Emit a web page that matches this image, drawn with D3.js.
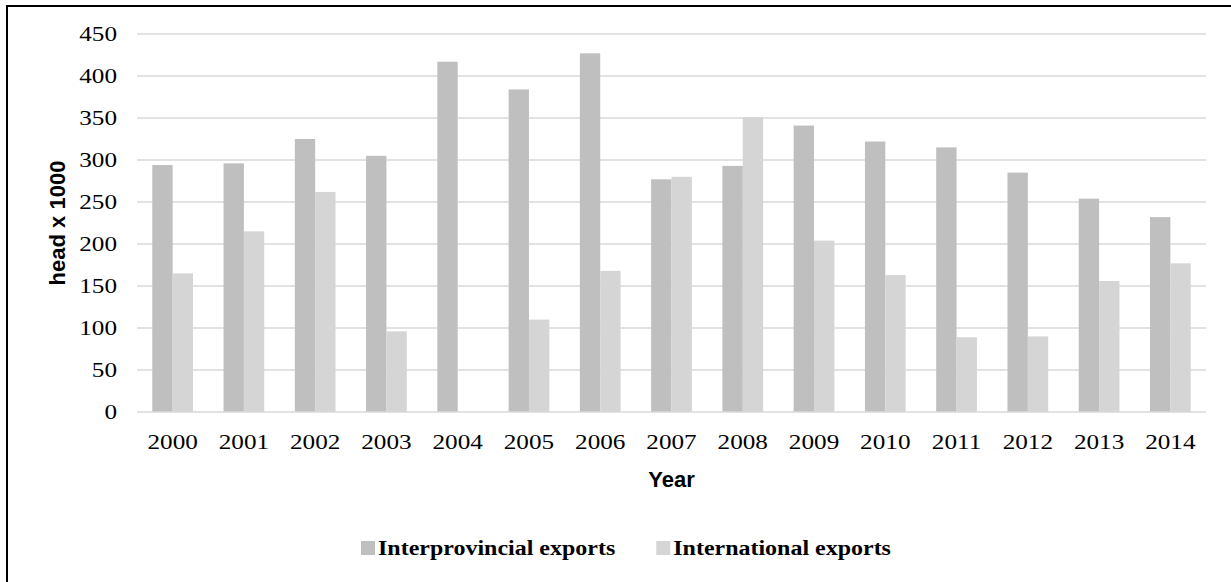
<!DOCTYPE html>
<html>
<head>
<meta charset="utf-8">
<script src="https://cdn.jsdelivr.net/npm/d3@7"></script>
<style>
  html, body { margin: 0; padding: 0; background: #fff; }
  svg { display: block; }
</style>
</head>
<body>
<svg id="chart" width="1231" height="582"></svg>
<script>
// Cattle exports, thousands of head per year
const years = ["2000","2001","2002","2003","2004","2005","2006","2007","2008","2009","2010","2011","2012","2013","2014"];
const interprovincial = [294, 296, 325, 305, 417, 384, 427, 277, 293, 341, 322, 315, 285, 254, 232];
const international   = [165, 215, 262, 96, 0, 110, 168, 280, 351, 204, 163, 89, 90, 156, 177];
const seriesNames = ["Interprovincial exports", "International exports"];
const seriesColors = ["#bfbfbf", "#d5d5d5"];
const yTicks = [0, 50, 100, 150, 200, 250, 300, 350, 400, 450];

const svg = d3.select("#chart");
const W = 1231, H = 582;
const plot = { left: 137, right: 1206, top: 34, bottom: 412 };

// frame (left and top edges)
svg.append("line").attr("x1", 7).attr("x2", 7).attr("y1", 5).attr("y2", H)
  .attr("stroke", "#000").attr("stroke-width", 2);
svg.append("line").attr("x1", 6).attr("x2", W).attr("y1", 6).attr("y2", 6)
  .attr("stroke", "#000").attr("stroke-width", 2);

const x = d3.scaleBand().domain(years).range([plot.left, plot.right]).paddingInner(0).paddingOuter(0);
const y = d3.scaleLinear().domain([0, 450]).range([plot.bottom, plot.top]);

// bars occupy 2/(2+1.5) of each band (gap width 150%)
const groupW = x.bandwidth() * 2 / 3.5;
const x1 = d3.scaleBand().domain([0, 1]).range([0, groupW]);

// gridlines
svg.append("g").selectAll("line").data(yTicks.filter(d => d > 0)).join("line")
  .attr("x1", plot.left).attr("x2", plot.right)
  .attr("y1", d => y(d)).attr("y2", d => y(d))
  .attr("stroke", "#d9d9d9").attr("stroke-width", 1.3);

// bars
const series = [interprovincial, international];
const rows = [];
years.forEach((yr, i) => series.forEach((s, k) => rows.push({ yr, k, v: s[i] })));
svg.append("g").selectAll("rect").data(rows).join("rect")
  .attr("x", d => x(d.yr) + (x.bandwidth() - groupW) / 2 + x1(d.k))
  .attr("width", x1.bandwidth())
  .attr("y", d => y(d.v))
  .attr("height", d => y(0) - y(d.v))
  .attr("fill", d => seriesColors[d.k]);

// baseline
svg.append("line").attr("x1", plot.left).attr("x2", plot.right)
  .attr("y1", y(0)).attr("y2", y(0))
  .attr("stroke", "#d9d9d9").attr("stroke-width", 1.5);

const serif = "'Liberation Serif', 'Times New Roman', serif";
const sans = "'Liberation Sans', Arial, sans-serif";

// y tick labels
svg.append("g").selectAll("text").data(yTicks).join("text")
  .attr("transform", d => `translate(117,${y(d)}) scale(1.2,1)`)
  .attr("dy", "0.34em")
  .attr("text-anchor", "end")
  .style("font-family", serif).style("font-size", "21px").attr("fill", "#000")
  .text(d => d);

// x tick labels
svg.append("g").selectAll("text").data(years).join("text")
  .attr("transform", d => `translate(${x(d) + x.bandwidth() / 2},449) scale(1.2,1)`)
  .attr("text-anchor", "middle")
  .style("font-family", serif).style("font-size", "21px").attr("fill", "#000")
  .text(d => d);

// axis titles
svg.append("text")
  .attr("transform", `translate(65,${(plot.top + plot.bottom) / 2}) rotate(-90)`)
  .attr("text-anchor", "middle")
  .style("font-family", sans).style("font-weight", "bold").style("font-size", "22px")
  .text("head x 1000");
svg.append("text")
  .attr("x", (plot.left + plot.right) / 2).attr("y", 487)
  .attr("text-anchor", "middle")
  .style("font-family", sans).style("font-weight", "bold").style("font-size", "22px")
  .text("Year");

// legend
const legend = svg.append("g");
let lx = 361;
seriesNames.forEach((name, k) => {
  legend.append("rect").attr("x", lx).attr("y", 541).attr("width", 14).attr("height", 14)
    .attr("fill", seriesColors[k]);
  const t = legend.append("text")
    .attr("transform", `translate(${lx + 17},555) scale(1.09,1)`)
    .style("font-family", serif).style("font-weight", "bold").style("font-size", "22px")
    .text(name);
  lx += 17 + t.node().getComputedTextLength() * 1.09 + 41;
});
</script>
</body>
</html>
